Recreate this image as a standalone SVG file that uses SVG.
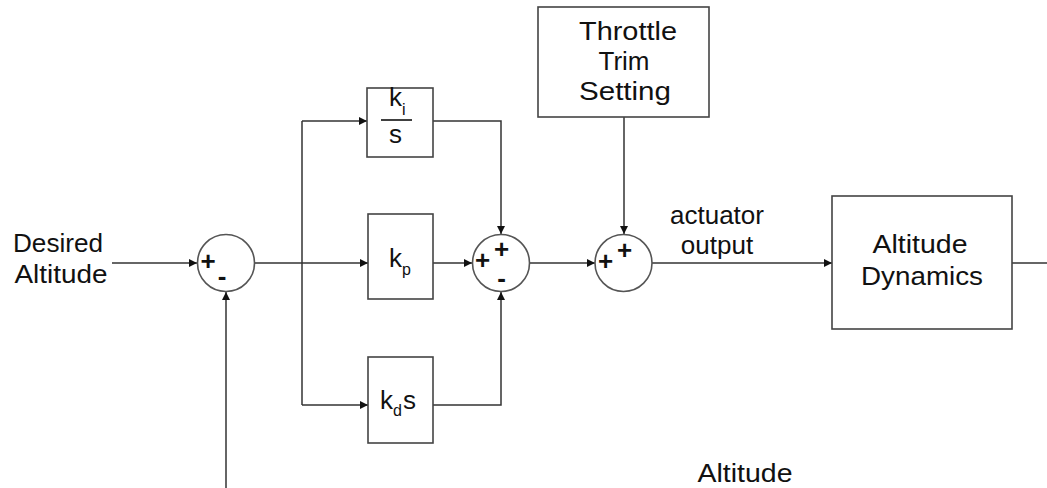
<svg xmlns="http://www.w3.org/2000/svg" width="1047" height="488" viewBox="0 0 1047 488">
<defs>
<marker id="ah" viewBox="0 0 10 10" refX="10" refY="5" markerWidth="10" markerHeight="8" markerUnits="userSpaceOnUse" orient="auto">
<path d="M0,0 L10,5 L0,10 Z" fill="#111"/>
</marker>
<style>
.box{fill:#fff;stroke:#444;stroke-width:1.6}
.sum{fill:#fff;stroke:#555;stroke-width:1.6}
.ln{fill:none;stroke:#333;stroke-width:1.5}
.t{font-family:"Liberation Sans",Arial,sans-serif;font-size:26px;fill:#111}
.s{font-family:"Liberation Sans",Arial,sans-serif;font-size:16px;fill:#111}
.m{text-anchor:middle}
.sg{font-family:"Liberation Sans",Arial,sans-serif;font-size:26px;font-weight:bold;fill:#111;text-anchor:middle}
</style>
</defs>
<rect width="1047" height="488" fill="#fff"/>

<g id="connectors">
<line class="ln" x1="112" y1="263" x2="197" y2="263" marker-end="url(#ah)"/>
<line class="ln" x1="226" y1="488" x2="226" y2="292" marker-end="url(#ah)"/>
<line class="ln" x1="254" y1="263" x2="368" y2="263" marker-end="url(#ah)"/>
<line class="ln" x1="302" y1="121" x2="302" y2="405"/>
<line class="ln" x1="302" y1="121" x2="367" y2="121" marker-end="url(#ah)"/>
<line class="ln" x1="302" y1="405" x2="368" y2="405" marker-end="url(#ah)"/>
<polyline class="ln" points="433,121 501,121 501,234" marker-end="url(#ah)"/>
<line class="ln" x1="433" y1="263" x2="472" y2="263" marker-end="url(#ah)"/>
<polyline class="ln" points="433,405 501,405 501,292" marker-end="url(#ah)"/>
<line class="ln" x1="530" y1="263" x2="595" y2="263" marker-end="url(#ah)"/>
<line class="ln" x1="624" y1="117" x2="624" y2="234" marker-end="url(#ah)"/>
<line class="ln" x1="652" y1="263" x2="832" y2="263" marker-end="url(#ah)"/>
<line class="ln" x1="1012" y1="263" x2="1047" y2="263"/>
</g>

<g id="desired-altitude">
<text class="t m" x="58" y="252" textLength="90" lengthAdjust="spacingAndGlyphs">Desired</text>
<text class="t m" x="61" y="283" textLength="93" lengthAdjust="spacingAndGlyphs">Altitude</text>
</g>

<g id="sum1">
<circle class="sum" cx="226" cy="263" r="28.5"/>
<text class="sg" x="208" y="269.5">+</text>
<text class="sg" x="222" y="285">-</text>
</g>

<g id="ki">
<rect class="box" x="367" y="88" width="66" height="69"/>
<text class="t" x="389" y="106">k</text>
<text class="s" x="402" y="115">i</text>
<line x1="381" y1="120" x2="412" y2="120" stroke="#111" stroke-width="1.6"/>
<text class="t" x="389" y="143">s</text>
</g>

<g id="kp">
<rect class="box" x="368" y="214" width="65" height="85"/>
<text class="t" x="389" y="267">k</text>
<text class="s" x="402" y="275">p</text>
</g>

<g id="kd">
<rect class="box" x="368" y="357" width="65" height="86"/>
<text class="t" x="380" y="409">k</text>
<text class="s" x="393" y="416">d</text>
<text class="t" x="403" y="409">s</text>
</g>

<g id="sum2">
<circle class="sum" cx="501" cy="263" r="28.5"/>
<text class="sg" x="482.5" y="269">+</text>
<text class="sg" x="501.5" y="258">+</text>
<text class="sg" x="501.5" y="287">-</text>
</g>

<g id="throttle">
<rect class="box" x="538" y="7" width="171" height="110"/>
<text class="t m" x="628" y="40" textLength="98" lengthAdjust="spacingAndGlyphs">Throttle</text>
<text class="t m" x="624" y="70">Trim</text>
<text class="t m" x="625" y="100" textLength="92" lengthAdjust="spacingAndGlyphs">Setting</text>
</g>

<g id="sum3">
<circle class="sum" cx="623.5" cy="263" r="28.5"/>
<text class="sg" x="605.5" y="270">+</text>
<text class="sg" x="624.5" y="258.5">+</text>
</g>

<g id="actuator-label">
<text class="t m" x="717" y="224">actuator</text>
<text class="t m" x="717" y="254">output</text>
</g>

<g id="dynamics">
<rect class="box" x="832" y="196" width="180" height="133"/>
<text class="t m" x="920" y="253" textLength="95" lengthAdjust="spacingAndGlyphs">Altitude</text>
<text class="t m" x="922" y="285" textLength="122" lengthAdjust="spacingAndGlyphs">Dynamics</text>
</g>

<g id="altitude-label">
<text class="t m" x="745" y="482" textLength="95" lengthAdjust="spacingAndGlyphs">Altitude</text>
</g>
</svg>
